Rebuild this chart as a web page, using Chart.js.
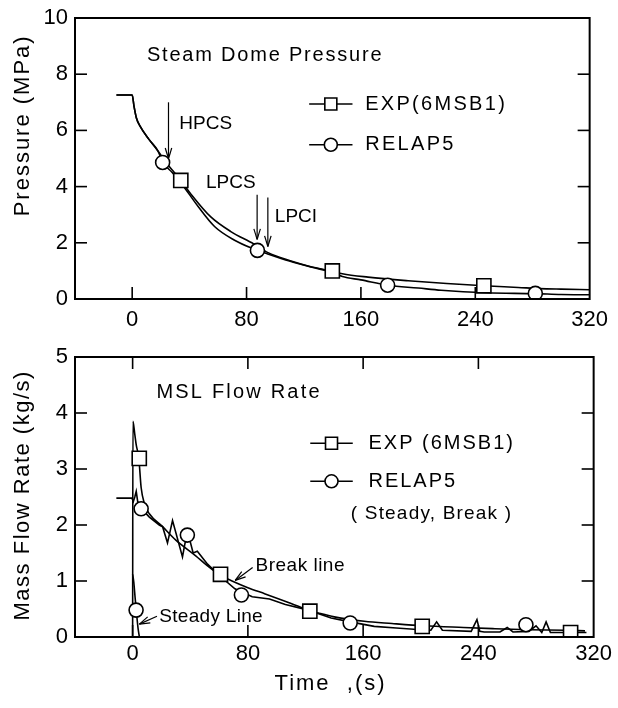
<!DOCTYPE html>
<html>
<head>
<meta charset="utf-8">
<script src="https://cdn.jsdelivr.net/npm/chart.js@4.4.0/dist/chart.umd.min.js"></script>
<style>
  body { margin: 0; background: #fff; }
  .box { position: absolute; left: 0; width: 618px; }
</style>
</head>
<body>
<div class="box" style="top:0;height:340px"><canvas id="cPres" width="618" height="340"></canvas></div>
<div class="box" style="top:339px;height:369px"><canvas id="cFlow" width="618" height="369"></canvas></div>
<script>
// ejes
const xTickVals = [0, 80, 160, 240, 320];
const presTickVals = [0, 2, 4, 6, 8, 10];
const flowTickVals = [0, 1, 2, 3, 4, 5];

// Steam dome pressure (MPa) vs tiempo (s)
const expPresT = [-11, 0, 1.3, 2.9, 5.4, 11.6, 18, 25, 34, 41, 55, 69, 85, 95, 110, 125, 140, 147, 165, 193, 220, 246, 270, 285, 300, 320];
const expPresV = [7.26, 7.26, 6.85, 6.45, 6.16, 5.69, 5.27, 4.78, 4.22, 3.74, 2.92, 2.4, 1.96, 1.65, 1.37, 1.15, 0.99, 0.9, 0.78, 0.65, 0.55, 0.47, 0.41, 0.37, 0.35, 0.33];
const relPresT = [-11, 0, 1.3, 2.9, 5.4, 11.6, 18, 21.3, 28, 34, 46, 57.6, 71.3, 84, 94, 110, 125, 140, 147, 160, 179, 200, 216, 248, 282, 300, 320];
const relPresV = [7.26, 7.26, 6.85, 6.45, 6.16, 5.69, 5.27, 4.88, 4.5, 4.14, 3.3, 2.58, 2.1, 1.8, 1.62, 1.35, 1.14, 0.95, 0.8, 0.68, 0.49, 0.39, 0.31, 0.22, 0.19, 0.16, 0.15];
const expPresMarkT = [34, 140, 246];
const expPresMarkV = [4.22, 1.0, 0.47];
const relPresMarkT = [21.3, 87.6, 178.7, 282];
const relPresMarkV = [4.86, 1.73, 0.49, 0.2];

// MSL flow rate (kg/s) vs tiempo (s)
const expFlowT = [0, 0.2, 1.5, 2.5, 4.3, 5.9, 8.2, 11.6, 20.8, 30, 43.8, 52, 61, 69, 80, 92, 110, 123, 128.7, 140, 160.8, 180, 202, 229.6, 250, 275, 300, 314];
const expFlowV = [0, 3.85, 3.62, 3.43, 3.19, 2.67, 2.38, 2.2, 1.97, 1.73, 1.45, 1.27, 1.1, 1.0, 0.88, 0.77, 0.6, 0.47, 0.43, 0.36, 0.28, 0.24, 0.2, 0.17, 0.15, 0.13, 0.12, 0.11];
const relBreakT = [-11.3, -0.5, 0.5, 1.5, 2.5, 3.5, 5.9, 11.6, 18.5, 20.8, 24.2, 27.7, 34.6, 36.4, 39.2, 42, 44.9, 52, 61, 71, 83, 95, 106, 122, 137.8, 151, 167.7, 183, 200, 207, 211, 215, 235, 239, 241, 244, 255, 260, 264, 275, 280, 284, 287, 290, 300, 310, 315];
const relBreakV = [2.48, 2.48, 2.42, 2.5, 2.6, 2.42, 2.3, 2.14, 2.0, 1.97, 1.68, 2.08, 1.43, 1.68, 1.78, 1.5, 1.53, 1.3, 1.08, 0.86, 0.72, 0.68, 0.58, 0.48, 0.34, 0.27, 0.19, 0.16, 0.13, 0.12, 0.27, 0.12, 0.1, 0.31, 0.1, 0.09, 0.09, 0.17, 0.09, 0.1, 0.2, 0.08, 0.27, 0.08, 0.08, 0.08, 0.08];
const relSteadyT = [0, 0.8, 1.8, 2.8, 3.8, 4.7];
const relSteadyV = [1.12, 0.98, 0.68, 0.4, 0.15, 0];
const expFlowMarkT = [4.6, 61, 123, 201, 304];
const expFlowMarkV = [3.19, 1.12, 0.46, 0.19, 0.08];
const relFlowMarkT = [2.4, 5.9, 38, 75.5, 151, 273];
const relFlowMarkV = [0.48, 2.29, 1.82, 0.75, 0.25, 0.22];

const FONT = "'Liberation Sans', Arial, sans-serif";
const pts = (t, v) => t.map((x, i) => ({ x, y: v[i] }));

function lineSet(label, t, v, smooth = true) {
    return { label, data: pts(t, v), showLine: true, pointRadius: 0, borderColor: '#000',
             borderWidth: 1.6, cubicInterpolationMode: smooth ? 'monotone' : 'default',
             tension: 0, order: 2 };
}
function markSet(label, t, v, style) {
    return { label, data: pts(t, v), showLine: false, pointStyle: style,
             pointRadius: style === 'rect' ? 10 : 7, backgroundColor: '#fff',
             borderColor: '#000', borderWidth: 1.6, order: 1 };
}

// marco, ticks hacia adentro, textos, flechas y leyenda
const deco = {
    id: 'deco',
    afterDatasetsDraw(chart, args, o) {
        const { ctx, chartArea: a, scales: { x, y } } = chart;
        const X = v => x.getPixelForValue(v), Y = v => y.getPixelForValue(v);
        const seg = (x1, y1, x2, y2) => { ctx.beginPath(); ctx.moveTo(x1, y1); ctx.lineTo(x2, y2); ctx.stroke(); };
        ctx.save();
        ctx.strokeStyle = '#000';
        ctx.fillStyle = '#000';
        ctx.lineWidth = 2;
        ctx.strokeRect(a.left, a.top, a.width, a.height);
        ctx.lineWidth = 1.6;
        x.ticks.forEach(t => {
            const p = X(t.value);
            if (p < a.left + 2 || p > a.right - 2) return;
            seg(p, a.bottom, p, a.bottom - 12);
            if (o.topTicks) seg(p, a.top, p, a.top + 12);
        });
        y.ticks.forEach(t => {
            const p = Y(t.value);
            if (p > a.bottom - 2 || p < a.top + 2) return;
            seg(a.left, p, a.left + 12, p);
            seg(a.right, p, a.right - 12, p);
        });

        ctx.lineWidth = 1.2;
        o.arrows.forEach(([t1, v1, t2, v2]) => {
            const x1 = X(t1), y1 = Y(v1), x2 = X(t2), y2 = Y(v2);
            seg(x1, y1, x2, y2);
            const ang = Math.atan2(y2 - y1, x2 - x1);
            [0.3, -0.3].forEach(d => seg(x2, y2, x2 - 11 * Math.cos(ang + d), y2 - 11 * Math.sin(ang + d)));
        });

        ctx.textBaseline = 'middle';
        ctx.textAlign = 'left';
        o.texts.forEach(tx => {
            ctx.font = tx.font;
            ctx.letterSpacing = tx.ls || '0px';
            ctx.fillText(tx.text, X(tx.t), Y(tx.v));
        });

        // leyenda
        const L = o.legend;
        ctx.lineWidth = 1.6;
        L.rows.forEach(r => {
            const yy = Y(r.v), x1 = X(L.t1), x2 = X(L.t2), xm = (x1 + x2) / 2;
            seg(x1, yy, x2, yy);
            ctx.beginPath();
            if (r.style === 'rect') ctx.rect(xm - 6, yy - 6, 12, 12);
            else ctx.arc(xm, yy, 6.5, 0, Math.PI * 2);
            ctx.fillStyle = '#fff'; ctx.fill(); ctx.stroke();
            ctx.fillStyle = '#000';
            ctx.font = L.font;
            ctx.letterSpacing = L.ls;
            ctx.fillText(r.label, X(L.tText), yy);
        });

        // títulos de ejes
        ctx.font = '22px ' + FONT;
        ctx.letterSpacing = o.yTitle.ls;
        ctx.save();
        ctx.translate(23, Y(o.yTitle.v));
        ctx.rotate(-Math.PI / 2);
        ctx.textAlign = 'center';
        ctx.fillText(o.yTitle.text, 0, 0);
        ctx.restore();
        if (o.xTitle) {
            ctx.letterSpacing = '2px';
            ctx.fillText(o.xTitle.text, X(o.xTitle.t), a.bottom + o.xTitle.dy);
        }
        ctx.restore();
    }
};

function axes(yMin, yMax, yTicks, xHeight, xPad) {
    return {
        x: {
            type: 'linear', min: -40, max: 320,
            afterBuildTicks: s => { s.ticks = xTickVals.map(v => ({ value: v })); },
            afterFit: s => { s.height = xHeight; },
            grid: { display: false, drawTicks: false }, border: { display: false },
            ticks: { color: '#000', font: { family: FONT, size: 22, lineHeight: 1 }, padding: xPad, maxRotation: 0, autoSkip: false }
        },
        y: {
            type: 'linear', min: yMin, max: yMax,
            afterBuildTicks: s => { s.ticks = yTicks.map(v => ({ value: v })); },
            afterFit: s => { s.width = 75; },
            grid: { display: false, drawTicks: false }, border: { display: false },
            ticks: { color: '#000', font: { family: FONT, size: 22, lineHeight: 1 }, padding: 7 }
        }
    };
}

const TXT = '19px ' + FONT;
const TTL = '20px ' + FONT;

new Chart(document.getElementById('cPres'), {
    type: 'scatter',
    data: {
        datasets: [
            markSet('EXP(6MSB1)', expPresMarkT, expPresMarkV, 'rect'),
            markSet('RELAP5', relPresMarkT, relPresMarkV, 'circle'),
            lineSet('EXP(6MSB1)', expPresT, expPresV),
            lineSet('RELAP5', relPresT, relPresV)
        ]
    },
    options: {
        responsive: false, animation: false, devicePixelRatio: 1,
        layout: { padding: { top: 11, right: 21, left: 0, bottom: 0 } },
        scales: axes(0, 10, presTickVals, 41, 10),
        plugins: {
            legend: { display: false }, tooltip: { enabled: false },
            deco: {
                topTicks: false,
                arrows: [[25.4, 7.0, 25.4, 5.0], [87.4, 3.71, 87.4, 2.12], [94.9, 3.61, 94.9, 1.87]],
                texts: [
                    { text: 'Steam Dome Pressure', t: 10.3, v: 8.68, font: TTL, ls: '1.8px' },
                    { text: 'HPCS', t: 33, v: 6.22, font: TXT, ls: '0px' },
                    { text: 'LPCS', t: 51.6, v: 4.13, font: TXT, ls: '0px' },
                    { text: 'LPCI', t: 99.8, v: 2.92, font: TXT, ls: '0px' }
                ],
                legend: {
                    t1: 123.8, t2: 154.1, tText: 163, font: '20px ' + FONT, ls: '2.3px',
                    rows: [{ label: 'EXP(6MSB1)', style: 'rect', v: 6.94 }, { label: 'RELAP5', style: 'circle', v: 5.49 }]
                },
                yTitle: { text: 'Pressure (MPa)', v: 6.18, ls: '2px' }
            }
        }
    },
    plugins: [deco]
});

new Chart(document.getElementById('cFlow'), {
    type: 'scatter',
    data: {
        datasets: [
            markSet('EXP (6MSB1)', expFlowMarkT, expFlowMarkV, 'rect'),
            markSet('RELAP5', relFlowMarkT, relFlowMarkV, 'circle'),
            lineSet('EXP (6MSB1)', expFlowT, expFlowV),
            lineSet('RELAP5 Break', relBreakT, relBreakV, false),
            lineSet('RELAP5 Steady', relSteadyT, relSteadyV)
        ]
    },
    options: {
        responsive: false, animation: false, devicePixelRatio: 1,
        layout: { padding: { top: 11, right: 21, left: 0, bottom: 0 } },
        scales: axes(0, 5, flowTickVals, 71, 6),
        plugins: {
            legend: { display: false }, tooltip: { enabled: false },
            deco: {
                topTicks: true,
                arrows: [[83.3, 1.24, 71.2, 1.01], [16.9, 0.37, 4.7, 0.23]],
                texts: [
                    { text: 'MSL Flow Rate', t: 16.5, v: 4.37, font: TTL, ls: '2.2px' },
                    { text: '( Steady, Break )', t: 151.4, v: 2.2, font: TXT, ls: '1.2px' },
                    { text: 'Break line', t: 85.3, v: 1.28, font: TXT, ls: '0.5px' },
                    { text: 'Steady Line', t: 18.5, v: 0.37, font: TXT, ls: '0.3px' }
                ],
                legend: {
                    t1: 123.3, t2: 152.8, tText: 163.7, font: '20px ' + FONT, ls: '2px',
                    rows: [{ label: 'EXP (6MSB1)', style: 'rect', v: 3.46 }, { label: 'RELAP5', style: 'circle', v: 2.78 }]
                },
                yTitle: { text: 'Mass Flow Rate (kg/s)', v: 2.53, ls: '1.5px' },
                xTitle: { text: 'Time  ,(s)', t: 98.5, dy: 47 }
            }
        }
    },
    plugins: [deco]
});
</script>
</body>
</html>
